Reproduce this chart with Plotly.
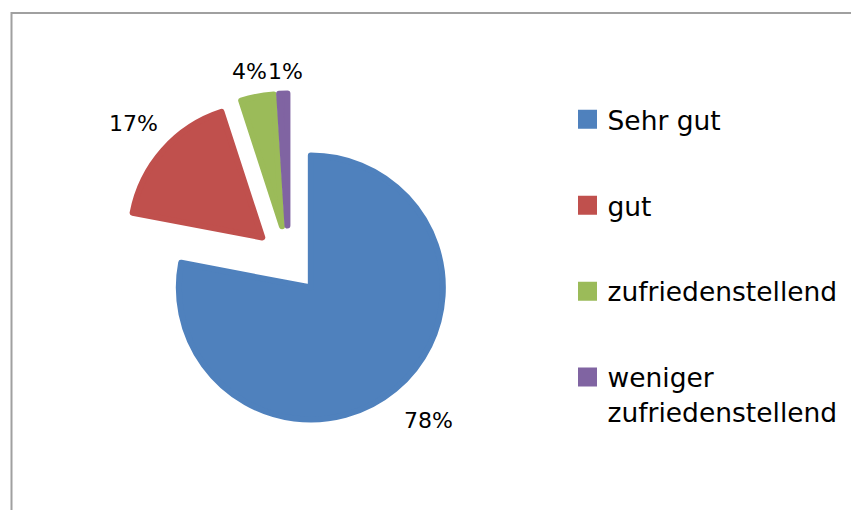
import plotly.graph_objects as go

# Survey result: rating shares in percent
categories = ["Sehr gut", "gut", "zufriedenstellend", "weniger<br>zufriedenstellend"]
shares = [78, 17, 4, 1]
colors = ["#4F81BD", "#C0504D", "#9BBB59", "#8064A2"]

W, H = 851, 510
FONT = "DejaVu Sans"

fig = go.Figure()

fig.add_trace(
    go.Pie(
        labels=categories,
        values=shares,
        sort=False,
        direction="clockwise",
        rotation=0,
        pull=[0.265] * len(shares),
        marker=dict(colors=colors, line=dict(color=colors, width=6)),
        textinfo="none",
        hoverinfo="label+percent",
        showlegend=False,
        domain=dict(x=[0.1428, 0.5353], y=[0.1616, 0.8165]),
    )
)

# legend entries: one square swatch per category, each in its own group
# so the legend rows can be spread apart with tracegroupgap
for name, col in zip(categories, colors):
    fig.add_trace(
        go.Scatter(
            x=[None], y=[None], mode="markers", name=name,
            legendgroup=name,
            marker=dict(symbol="square", size=16, color=col,
                        line=dict(color=col, width=3)),
            hoverinfo="skip",
        )
    )

# percentage labels beside the slices
label_pos = [(428, 420), (133, 123), (249.5, 72), (285, 72)]
for v, (px, py) in zip(shares, label_pos):
    fig.add_annotation(
        x=px / W, y=1 - py / H, xref="paper", yref="paper",
        text=f"{v}%", showarrow=False,
        font=dict(family=FONT, size=22, color="#000000"),
        xanchor="center", yanchor="middle",
    )

# chart area frame
fig.add_shape(
    type="rect", xref="paper", yref="paper",
    x0=11.5 / W, x1=1.02, y0=-0.02, y1=1 - 13 / H,
    line=dict(color="#A0A0A0", width=2), fillcolor="rgba(0,0,0,0)",
    layer="below",
)

fig.update_layout(
    width=W, height=H,
    margin=dict(l=0, r=0, t=0, b=0),
    paper_bgcolor="white", plot_bgcolor="white",
    xaxis=dict(visible=False),
    yaxis=dict(visible=False),
    showlegend=True,
    legend=dict(
        x=567.5 / W, y=1 - 95.5 / H, xanchor="left", yanchor="top",
        valign="top", traceorder="grouped", tracegroupgap=48.5,
        itemsizing="trace",
        font=dict(family=FONT, size=26.5, color="#000000"),
        bgcolor="rgba(0,0,0,0)", borderwidth=0,
    ),
)

fig.write_html("out.html")
